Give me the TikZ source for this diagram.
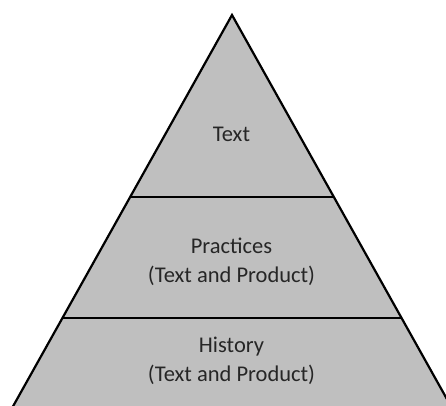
\documentclass[tikz,border=0pt]{standalone}
\usepackage{fontspec}
\setmainfont{Carlito}
\begin{document}
\begin{tikzpicture}[x=1bp,y=-1bp,
  tier/.style={fill=black!25,draw=black,line width=2.2bp,line join=miter},
  divider/.style={draw=black,line width=2.2bp},
  tierlabel/.style={align=center,text=black!85,font=\fontsize{22.5bp}{28.5bp}\selectfont,inner sep=0pt}]
  \useasboundingbox (0,0) rectangle (446,405);
  \clip (0,0) rectangle (446,405);
  % pyramid body, its base running below the frame
  \coordinate (apex) at (232,15);
  \coordinate (bl) at (232-0.5596*410,425);
  \coordinate (br) at (232+0.5596*410,425);
  \path[tier] (bl) -- (apex) -- (br);
  % tier boundaries
  \coordinate (u1) at (232-0.5596*182,197);
  \coordinate (u2) at (232+0.5596*182,197);
  \coordinate (l1) at (232-0.5596*303,318);
  \coordinate (l2) at (232+0.5596*303,318);
  \draw[divider] (u1) -- (u2);
  \draw[divider] (l1) -- (l2);
  % labels (base anchor sits on the last line)
  \node[tierlabel,anchor=base] (top) at (231.5,141) {Text};
  \node[tierlabel,anchor=base] (mid) at (231.5,282) {Practices\\(Text and Product)};
  \node[tierlabel,anchor=base] (low) at (231.5,381) {History\\(Text and Product)};
\end{tikzpicture}
\end{document}
